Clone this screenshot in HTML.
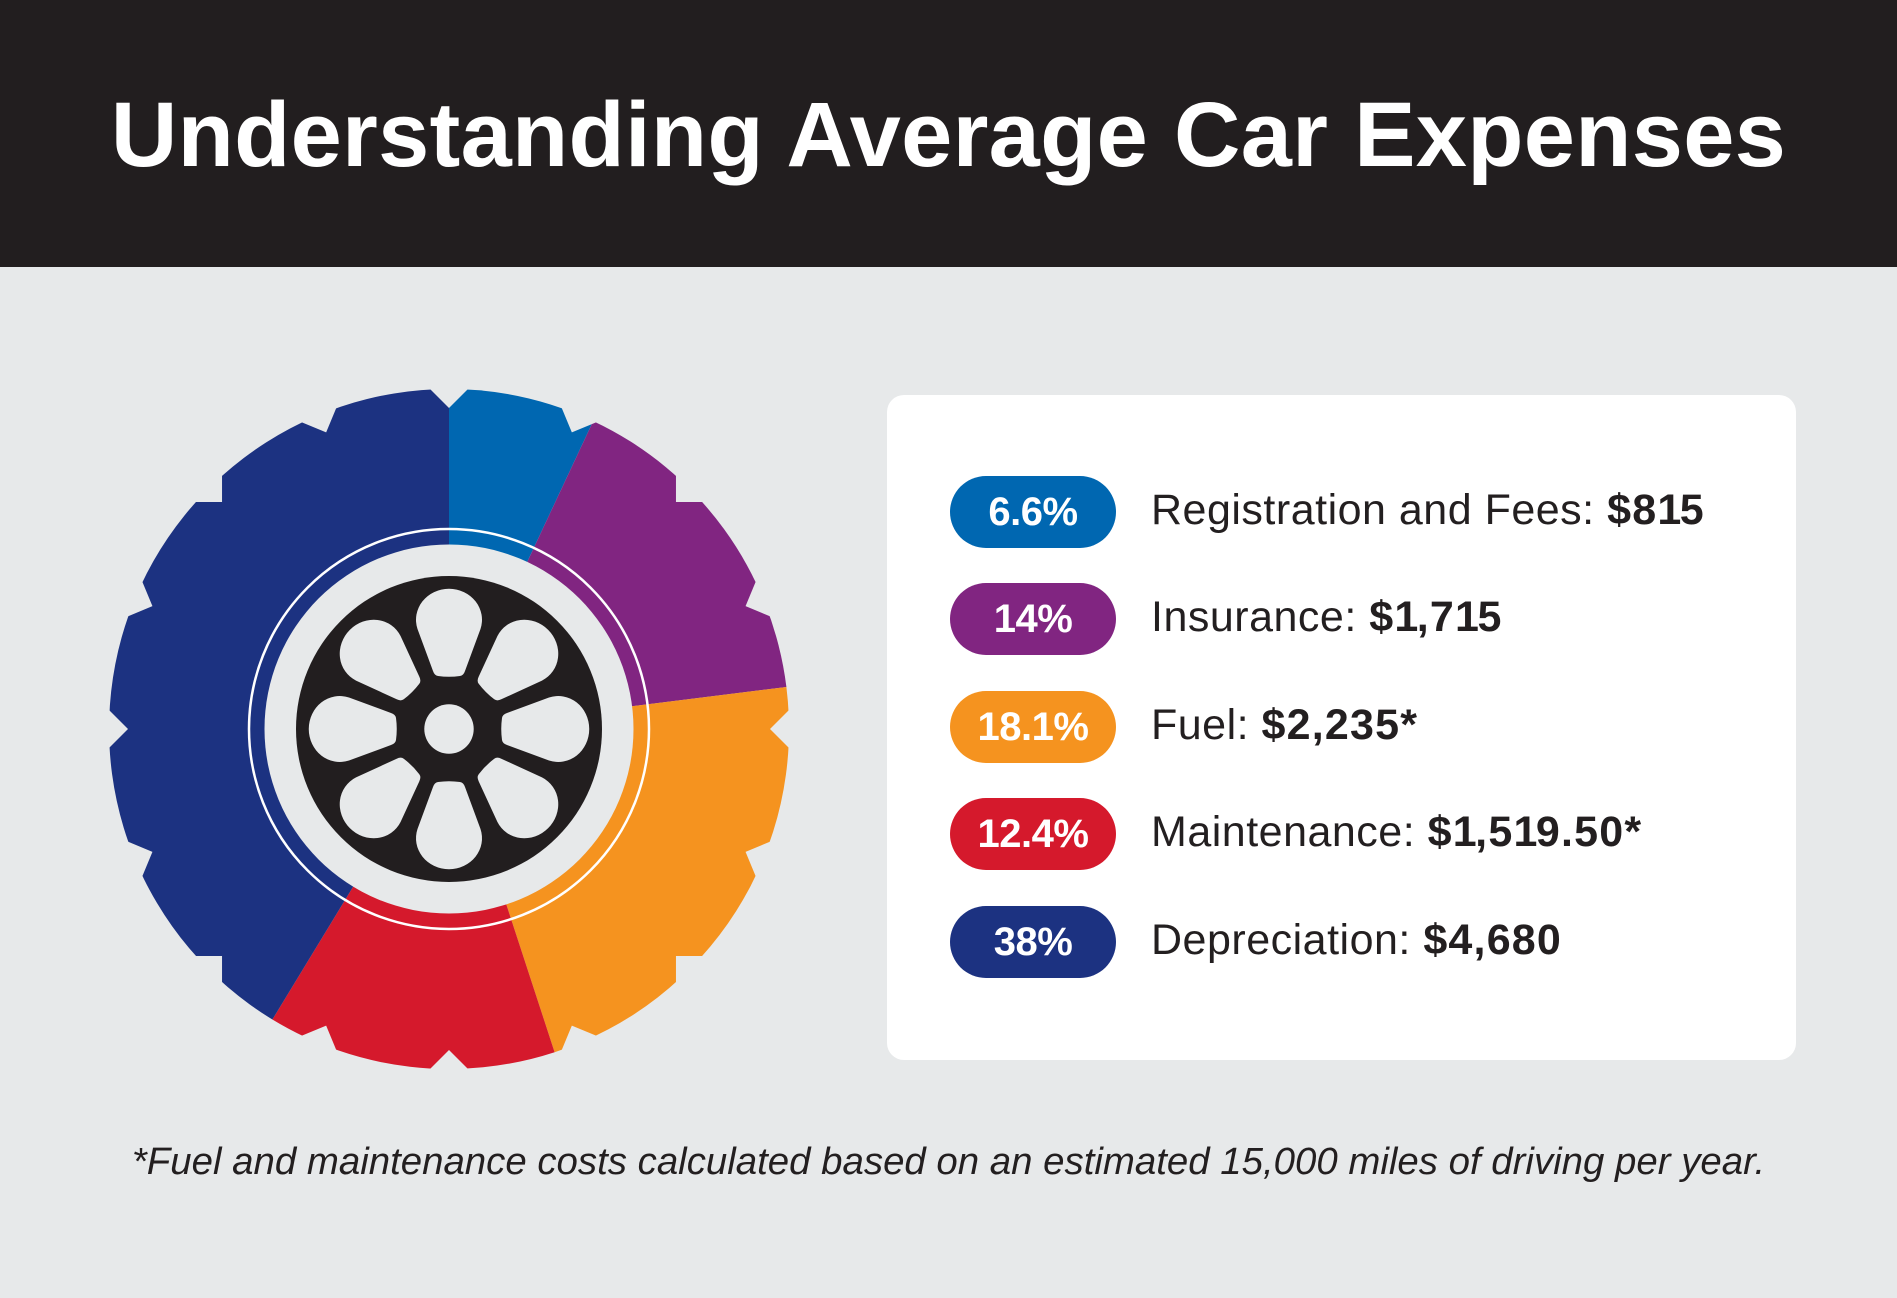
<!DOCTYPE html>
<html>
<head>
<meta charset="utf-8">
<style>
  html, body { margin:0; padding:0; }
  body { width:1897px; height:1298px; background:#e7e9ea; position:relative; overflow:hidden; font-family:"Liberation Sans", sans-serif; color:#231f20; }
  .header { position:absolute; left:0; top:0; width:1897px; height:267px; background:#221e1f; }
  .title { position:absolute; left:0; top:89px; width:1897px; text-align:center; color:#fff; font-weight:700; font-size:92px; line-height:92px; white-space:nowrap; letter-spacing:0.3px; }
  .card { position:absolute; left:887px; top:395px; width:909px; height:665px; background:#fff; border-radius:17px; }
  .pill { position:absolute; left:950px; width:166px; height:72px; border-radius:36px; color:#fff; font-weight:700; font-size:40px; line-height:72px; text-align:center; white-space:nowrap; letter-spacing:-0.5px; }
  .label { position:absolute; left:1151px; height:72px; font-size:43px; line-height:72px; white-space:nowrap; letter-spacing:0.5px; color:#231f20; }
  .label b { font-weight:700; letter-spacing:1.2px; }
  .label b i { font-style:normal; letter-spacing:-1.5px; }
  .foot { position:absolute; left:0; top:1142px; width:1897px; text-align:center; font-style:italic; font-size:38.4px; line-height:40px; white-space:nowrap; color:#231f20; }
  svg { position:absolute; left:0; top:0; }
</style>
</head>
<body>
<div class="header"></div>
<div class="title">Understanding Average Car Expenses</div>

<svg width="900" height="1298" viewBox="0 0 900 1298">
  <defs>
    <polygon id="notch" points="0,-321 -38,-359 38,-359" fill="#e7e9ea"/>
    <path id="petal" d="M -11,-53 Q -14.5,-53.5 -16,-58 L -31.5,-100 A 33 31 0 1 1 31.5,-100 L 16,-58 Q 14.5,-53.5 11,-53 Q 0,-51.5 -11,-53 Z" fill="#e7e9ea"/>
  </defs>
  <g transform="translate(449,729)">
    <!-- sectors -->
    <path d="M0,0 L0,-340 A340,340 0 0 1 144.2,-307.9 Z" fill="#0067b1"/>
    <path d="M0,0 L144.2,-307.9 A340,340 0 0 1 337.4,-42 Z" fill="#812581"/>
    <path d="M0,0 L337.4,-42 A340,340 0 0 1 105.6,323.2 Z" fill="#f5931f"/>
    <path d="M0,0 L105.6,323.2 A340,340 0 0 1 -176.6,290.5 Z" fill="#d5192c"/>
    <path d="M0,0 L-176.6,290.5 A340,340 0 0 1 0,-340 Z" fill="#1c3281"/>
    <!-- notches -->
    <use href="#notch" transform="rotate(0)"/>
    <use href="#notch" transform="rotate(22.5)"/>
    <use href="#notch" transform="rotate(45)"/>
    <use href="#notch" transform="rotate(67.5)"/>
    <use href="#notch" transform="rotate(90)"/>
    <use href="#notch" transform="rotate(112.5)"/>
    <use href="#notch" transform="rotate(135)"/>
    <use href="#notch" transform="rotate(157.5)"/>
    <use href="#notch" transform="rotate(180)"/>
    <use href="#notch" transform="rotate(202.5)"/>
    <use href="#notch" transform="rotate(225)"/>
    <use href="#notch" transform="rotate(247.5)"/>
    <use href="#notch" transform="rotate(270)"/>
    <use href="#notch" transform="rotate(292.5)"/>
    <use href="#notch" transform="rotate(315)"/>
    <use href="#notch" transform="rotate(337.5)"/>
    <!-- inner disk and ring -->
    <circle cx="0" cy="0" r="184.5" fill="#e7e9ea"/>
    <circle cx="0" cy="0" r="200" fill="none" stroke="#ffffff" stroke-width="2.5"/>
    <!-- wheel -->
    <circle cx="0" cy="0" r="153" fill="#221e1f"/>
    <circle cx="0" cy="0" r="24.7" fill="#e7e9ea"/>
    <use href="#petal" transform="rotate(0)"/>
    <use href="#petal" transform="rotate(45)"/>
    <use href="#petal" transform="rotate(90)"/>
    <use href="#petal" transform="rotate(135)"/>
    <use href="#petal" transform="rotate(180)"/>
    <use href="#petal" transform="rotate(225)"/>
    <use href="#petal" transform="rotate(270)"/>
    <use href="#petal" transform="rotate(315)"/>
  </g>
</svg>

<div class="card"></div>

<div class="pill" style="top:476px;background:#0067b1;">6.6%</div>
<div class="label" style="top:474px;">Registration and Fees: <b>$8<i>1</i>5</b></div>

<div class="pill" style="top:583px;background:#812581;">14%</div>
<div class="label" style="top:581px;">Insurance: <b>$<i>1</i>,7<i>1</i>5</b></div>

<div class="pill" style="top:691px;background:#f5931f;">18.1%</div>
<div class="label" style="top:689px;">Fuel: <b>$2,235*</b></div>

<div class="pill" style="top:798px;background:#d5192c;">12.4%</div>
<div class="label" style="top:796px;">Maintenance: <b>$<i>1</i>,5<i>1</i>9.50*</b></div>

<div class="pill" style="top:906px;background:#1c3281;">38%</div>
<div class="label" style="top:904px;">Depreciation: <b>$4,680</b></div>

<div class="foot">*Fuel and maintenance costs calculated based on an estimated 15,000 miles of driving per year.</div>
</body>
</html>
